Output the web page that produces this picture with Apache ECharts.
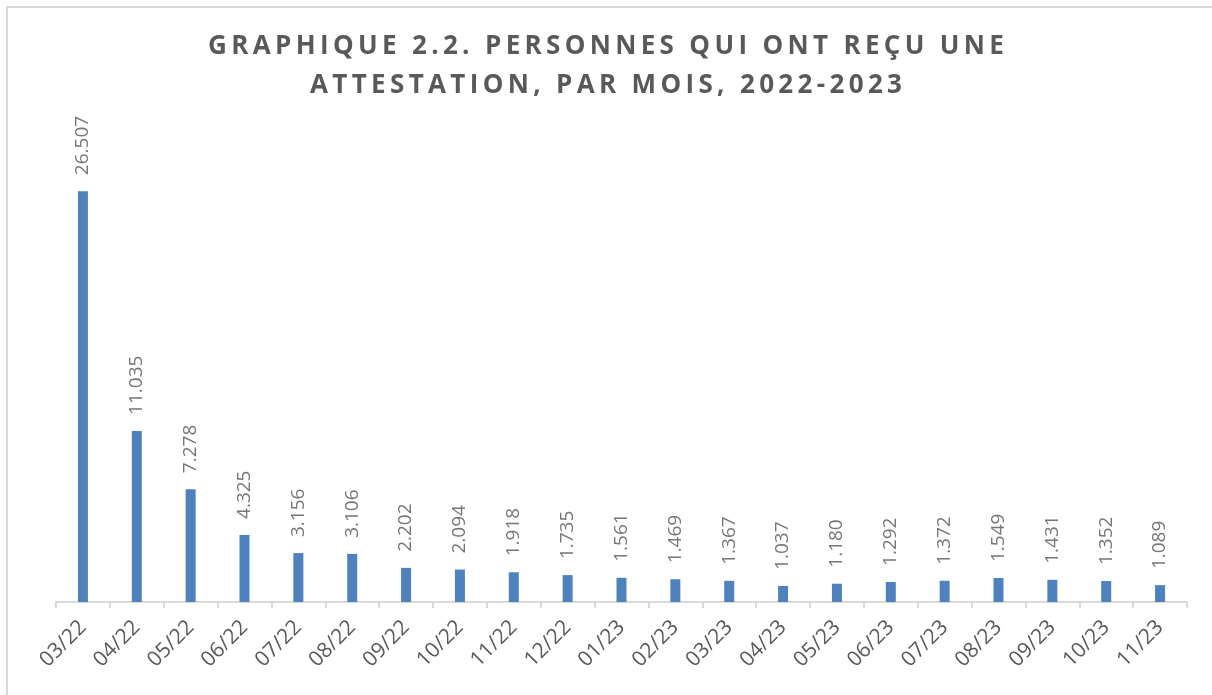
<!DOCTYPE html>
<html><head><meta charset="utf-8">
<script src="https://cdn.jsdelivr.net/npm/echarts@6/dist/echarts.min.js"></script>
<style>html,body{margin:0;padding:0;background:#fff}#c{width:1212px;height:695px}</style>
</head><body><div id="c"></div>
<script>
const months = ["03/22","04/22","05/22","06/22","07/22","08/22","09/22","10/22","11/22","12/22","01/23","02/23","03/23","04/23","05/23","06/23","07/23","08/23","09/23","10/23","11/23"];
const persons = [26507,11035,7278,4325,3156,3106,2202,2094,1918,1735,1561,1469,1367,1037,1180,1292,1372,1549,1431,1352,1089];
const titleLines = ["GRAPHIQUE 2.2. PERSONNES QUI ONT REÇU UNE","ATTESTATION, PAR MOIS, 2022-2023"];

function fmt(v){ return String(v).replace(/\B(?=(\d{3})+(?!\d))/g, "."); }
function spaced(s){ return s.split('').join('\u2006'); }

const chart = echarts.init(document.getElementById('c'), null, {renderer:'canvas'});
chart.setOption({
  backgroundColor:'#fff',
  animation:false,
  title:{
    text: titleLines.map(spaced).join('\n'),
    left:'center', top:22,
    textStyle:{fontFamily:'Open Sans', fontWeight:'bold', fontSize:26, color:'#595959', lineHeight:39}
  },
  graphic:[{type:'rect', shape:{x:7,y:7,width:1400,height:900}, style:{fill:'none', stroke:'#d9d9d9', lineWidth:2}, silent:true}],
  grid:{left:56,right:25,top:137,bottom:93,containLabel:false},
  xAxis:{
    type:'category', data:months,
    axisLine:{lineStyle:{color:'#d9d9d9',width:2}},
    axisTick:{show:true,length:6,lineStyle:{color:'#d9d9d9',width:2}},
    axisLabel:{rotate:45, margin:22, fontFamily:'Open Sans', fontSize:21, color:'#595959'}
  },
  yAxis:{type:'value', min:0, max:30000, show:false, splitLine:{show:false}},
  series:[{
    type:'bar', data:persons, barWidth:10,
    itemStyle:{color:'#4f81bd'},
    label:{show:true, position:'top', rotate:90, align:'left', verticalAlign:'middle', distance:16,
      fontFamily:'Open Sans', fontSize:19, color:'#767676', formatter:p=>fmt(p.value)}
  }]
});
</script></body></html>
